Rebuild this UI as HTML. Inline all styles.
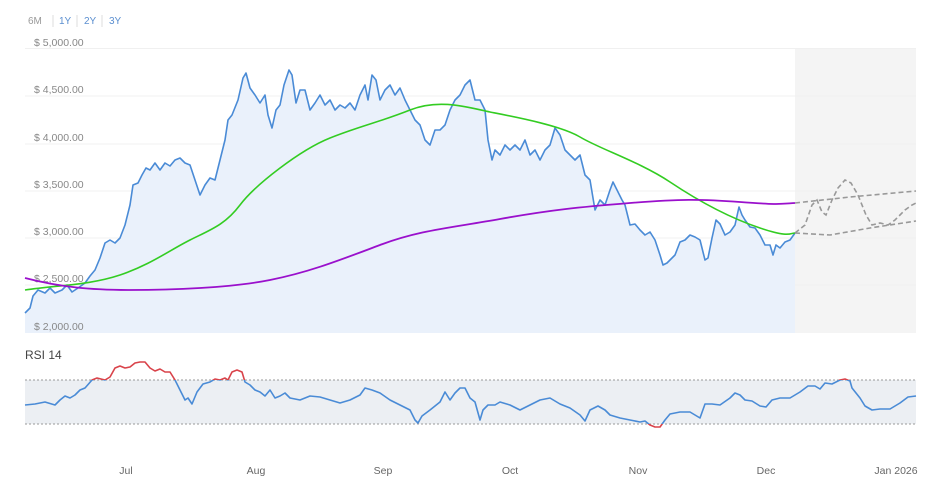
<!DOCTYPE html>
<html><head><meta charset="utf-8"><style>
body{margin:0;background:#fff;width:937px;height:487px;overflow:hidden;font-family:"Liberation Sans",sans-serif}
svg{position:absolute;left:0;top:0}
</style></head><body>
<svg width="937" height="487" viewBox="0 0 937 487" font-family="Liberation Sans, sans-serif">
<defs>
<clipPath id="mid"><rect x="0" y="380" width="937" height="44"/></clipPath>
<clipPath id="out"><rect x="0" y="0" width="937" height="380"/><rect x="0" y="424" width="937" height="63"/></clipPath>
</defs>
<text x="28" y="24" font-size="10" fill="#999">6M</text>
<line x1="53" y1="15" x2="53" y2="27" stroke="#ddd"/>
<text x="59" y="24" font-size="10" fill="#5b8fd0">1Y</text>
<line x1="77" y1="15" x2="77" y2="27" stroke="#ddd"/>
<text x="84" y="24" font-size="10" fill="#5b8fd0">2Y</text>
<line x1="102" y1="15" x2="102" y2="27" stroke="#ddd"/>
<text x="109" y="24" font-size="10" fill="#5b8fd0">3Y</text>
<rect x="795" y="49" width="121" height="284" fill="#f4f4f4"/>
<g stroke="#f0f0f0" stroke-width="1">
<line x1="25" y1="48.5" x2="916" y2="48.5"/><line x1="25" y1="96" x2="916" y2="96"/><line x1="25" y1="144" x2="916" y2="144"/><line x1="25" y1="191" x2="916" y2="191"/><line x1="25" y1="238" x2="916" y2="238"/><line x1="25" y1="285" x2="916" y2="285"/>
</g>
<polygon fill="#eaf1fb" points="25,333 25,313 30,308 33,296 38,290 45,293 50,288 55,293 62,290 67,285 72,292 78,288 85,283 90,276 95,270 100,258 105,243 110,240 115,243 120,238 125,225 130,205 133,185 138,183 142,175 146,168 150,170 155,163 160,170 165,163 170,166 175,160 180,158 185,163 190,165 195,180 200,195 205,185 210,178 215,180 220,160 225,140 228,120 232,115 238,100 243,78 246,73 250,88 255,95 260,103 265,95 268,115 272,128 276,110 280,105 284,85 289,70 292,75 296,103 300,90 305,90 310,110 315,103 320,95 325,105 330,100 335,110 340,105 345,108 350,103 355,110 360,95 365,85 368,100 372,75 376,80 380,100 385,90 390,85 395,95 400,88 405,100 410,110 415,120 420,125 425,140 430,145 435,130 440,130 445,125 450,110 455,100 460,95 465,85 470,80 475,100 480,100 485,110 488,140 492,160 495,150 500,155 505,145 510,150 515,145 520,150 525,140 530,155 535,150 540,160 545,150 550,145 555,128 560,135 565,150 570,155 575,160 580,155 585,175 590,180 595,210 600,200 605,205 610,190 613,182 617,190 622,200 625,205 630,225 635,224 640,230 645,235 650,232 655,240 660,255 663,265 667,263 672,258 675,255 680,242 685,240 690,235 695,237 700,240 705,260 708,258 712,238 716,220 720,224 725,235 730,232 735,225 739,207 742,215 745,220 750,227 755,228 760,235 765,245 770,245 773,255 776,245 780,248 785,242 790,240 795,233 795,333"/>
<g font-size="10.5" fill="#888">
<text x="34" y="46">$ 5,000.00</text><text x="34" y="93">$ 4,500.00</text><text x="34" y="141">$ 4,000.00</text><text x="34" y="188">$ 3,500.00</text><text x="34" y="235">$ 3,000.00</text><text x="34" y="282">$ 2,500.00</text><text x="34" y="330">$ 2,000.00</text>
</g>
<polyline fill="none" stroke="#4a8bd6" stroke-width="1.6" stroke-linejoin="round" points="25,313 30,308 33,296 38,290 45,293 50,288 55,293 62,290 67,285 72,292 78,288 85,283 90,276 95,270 100,258 105,243 110,240 115,243 120,238 125,225 130,205 133,185 138,183 142,175 146,168 150,170 155,163 160,170 165,163 170,166 175,160 180,158 185,163 190,165 195,180 200,195 205,185 210,178 215,180 220,160 225,140 228,120 232,115 238,100 243,78 246,73 250,88 255,95 260,103 265,95 268,115 272,128 276,110 280,105 284,85 289,70 292,75 296,103 300,90 305,90 310,110 315,103 320,95 325,105 330,100 335,110 340,105 345,108 350,103 355,110 360,95 365,85 368,100 372,75 376,80 380,100 385,90 390,85 395,95 400,88 405,100 410,110 415,120 420,125 425,140 430,145 435,130 440,130 445,125 450,110 455,100 460,95 465,85 470,80 475,100 480,100 485,110 488,140 492,160 495,150 500,155 505,145 510,150 515,145 520,150 525,140 530,155 535,150 540,160 545,150 550,145 555,128 560,135 565,150 570,155 575,160 580,155 585,175 590,180 595,210 600,200 605,205 610,190 613,182 617,190 622,200 625,205 630,225 635,224 640,230 645,235 650,232 655,240 660,255 663,265 667,263 672,258 675,255 680,242 685,240 690,235 695,237 700,240 705,260 708,258 712,238 716,220 720,224 725,235 730,232 735,225 739,207 742,215 745,220 750,227 755,228 760,235 765,245 770,245 773,255 776,245 780,248 785,242 790,240 795,233"/>
<path fill="none" stroke="#33cc22" stroke-width="1.6" d="M25,290 C60,285 90,285 120,275 S170,250 190,240 S225,225 240,205 S300,150 330,138 S380,122 410,110 S470,108 490,112 S560,125 580,137 S640,162 670,182 S730,218 760,228 S790,233 795,233"/>
<path fill="none" stroke="#9a10cc" stroke-width="1.8" d="M25,278 C60,287 90,290 130,290 S230,288 270,280 S340,260 380,245 S450,228 500,219 S580,207 630,203 S700,199 740,202 S780,204 795,203"/>
<g fill="none" stroke="#999" stroke-width="1.6" stroke-dasharray="5,3">
<polyline points="795,203 850,197 916,191"/>
<polyline points="795,233 830,235 870,228 916,221"/>
<polyline points="795,233 805,225 812,205 817,200 822,212 826,215 832,200 838,188 845,180 851,183 858,195 866,215 872,225 880,223 888,225 895,220 905,210 912,205 916,203"/>
</g>
<text x="25" y="359" font-size="12" fill="#444">RSI 14</text>
<rect x="25" y="380" width="891" height="44" fill="#eceff3"/>
<line x1="25" y1="380" x2="916" y2="380" stroke="#999" stroke-dasharray="2,2"/>
<line x1="25" y1="424" x2="916" y2="424" stroke="#999" stroke-dasharray="2,2"/>
<g fill="none" stroke-width="1.6" stroke-linejoin="round">
<polyline id="rsi" clip-path="url(#mid)" stroke="#4a8bd6" points="25,405 35,404 45,402 55,405 60,400 65,396 70,398 75,395 80,390 85,388 92,380 97,378 105,380 110,377 115,368 120,366 125,368 130,367 135,363 140,362 145,362 150,368 155,371 160,369 165,372 170,372 175,380 180,390 185,400 188,398 192,404 197,392 203,384 210,382 215,379 220,380 225,378 228,380 232,372 237,370 242,372 245,382 250,385 255,390 260,392 265,396 270,390 275,398 280,396 285,393 290,398 300,400 310,396 320,397 330,400 340,403 350,400 360,395 365,388 372,390 380,393 390,400 400,405 410,410 415,420 418,423 422,416 430,410 440,402 445,392 450,400 455,393 460,388 465,388 470,398 475,402 480,420 483,410 488,405 495,405 500,402 510,405 520,410 530,405 540,400 550,398 560,404 570,408 580,415 585,421 590,410 598,406 605,410 610,415 620,418 630,420 640,422 645,421 650,425 655,427 660,427 665,420 670,414 680,412 690,412 700,418 705,404 712,404 720,405 730,398 735,393 740,395 745,400 752,401 760,406 766,407 772,400 780,398 790,398 800,392 808,386 815,386 820,389 825,383 832,384 840,380 845,379 850,381 852,388 860,398 865,406 872,410 880,409 890,409 900,403 908,397 916,396"/>
<use href="#rsi" clip-path="url(#out)" stroke="#d9434a"/>
</g>
<polyline fill="none" stroke="#d9434a" stroke-width="1.6" stroke-linejoin="round" clip-path="url(#out)" points="25,405 35,404 45,402 55,405 60,400 65,396 70,398 75,395 80,390 85,388 92,380 97,378 105,380 110,377 115,368 120,366 125,368 130,367 135,363 140,362 145,362 150,368 155,371 160,369 165,372 170,372 175,380 180,390 185,400 188,398 192,404 197,392 203,384 210,382 215,379 220,380 225,378 228,380 232,372 237,370 242,372 245,382 250,385 255,390 260,392 265,396 270,390 275,398 280,396 285,393 290,398 300,400 310,396 320,397 330,400 340,403 350,400 360,395 365,388 372,390 380,393 390,400 400,405 410,410 415,420 418,423 422,416 430,410 440,402 445,392 450,400 455,393 460,388 465,388 470,398 475,402 480,420 483,410 488,405 495,405 500,402 510,405 520,410 530,405 540,400 550,398 560,404 570,408 580,415 585,421 590,410 598,406 605,410 610,415 620,418 630,420 640,422 645,421 650,425 655,427 660,427 665,420 670,414 680,412 690,412 700,418 705,404 712,404 720,405 730,398 735,393 740,395 745,400 752,401 760,406 766,407 772,400 780,398 790,398 800,392 808,386 815,386 820,389 825,383 832,384 840,380 845,379 850,381 852,388 860,398 865,406 872,410 880,409 890,409 900,403 908,397 916,396"/>
<g font-size="10.5" fill="#666" text-anchor="middle">
<text x="126" y="474">Jul</text><text x="256" y="474">Aug</text><text x="383" y="474">Sep</text><text x="510" y="474">Oct</text><text x="638" y="474">Nov</text><text x="766" y="474">Dec</text><text x="896" y="474">Jan 2026</text>
</g>
</svg>
</body></html>
